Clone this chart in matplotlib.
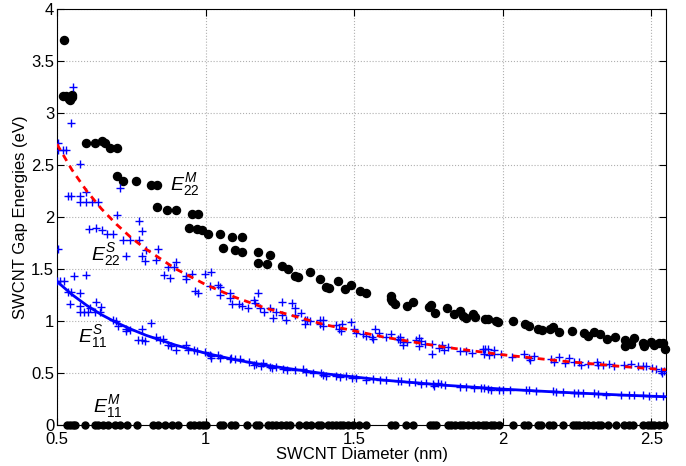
import matplotlib
matplotlib.use("Agg")
import matplotlib.pyplot as plt
import numpy as np

plt.rcParams["font.family"] = ["Liberation Sans", "DejaVu Sans"]
plt.rcParams["mathtext.fontset"] = "custom"
plt.rcParams["mathtext.rm"] = "Liberation Sans"
plt.rcParams["mathtext.it"] = "Liberation Sans:italic"
plt.rcParams["mathtext.default"] = "it"

# E22 metallic (black dots)
em22_d = [0.525, 0.52, 0.53, 0.54, 0.55, 0.545, 0.55,
          0.597, 0.629, 0.65, 0.661, 0.68, 0.703,
          0.703, 0.723, 0.766, 0.818, 0.837,
          0.838, 0.869, 0.902, 0.954, 0.975,
          0.944, 0.973, 0.988, 1.009, 1.049, 1.09, 1.122,
          1.059, 1.10, 1.122, 1.175, 1.175, 1.206, 1.216,
          1.259, 1.279, 1.30, 1.31, 1.353, 1.384, 1.405, 1.415,
          1.447, 1.468, 1.489, 1.521, 1.541,
          1.625, 1.625, 1.628, 1.636, 1.678, 1.698, 1.751, 1.76, 1.773,
          1.814, 1.835, 1.856, 1.866, 1.877, 1.899, 1.908, 1.942, 1.952,
          1.978, 1.983, 2.034, 2.075, 2.087, 2.118, 2.131, 2.16, 2.171,
          2.191, 2.232, 2.275, 2.287, 2.307, 2.327, 2.35, 2.379,
          2.411, 2.411, 2.432, 2.443, 2.471, 2.476, 2.499, 2.51, 2.527, 2.54, 2.547]
em22_e = [3.70, 3.16, 3.16, 3.13, 3.15, 3.12, 3.17,
          2.71, 2.71, 2.73, 2.71, 2.66, 2.66,
          2.39, 2.35, 2.35, 2.31, 2.31,
          2.10, 2.07, 2.07, 2.03, 2.03,
          1.89, 1.88, 1.87, 1.84, 1.84, 1.81, 1.81,
          1.70, 1.68, 1.66, 1.66, 1.56, 1.55, 1.63,
          1.53, 1.50, 1.43, 1.42, 1.47, 1.40, 1.33, 1.32,
          1.38, 1.31, 1.35, 1.29, 1.27,
          1.24, 1.21, 1.19, 1.16, 1.14, 1.18, 1.13, 1.15, 1.08,
          1.12, 1.07, 1.10, 1.05, 1.025, 1.07, 1.04, 1.02, 1.02,
          1.00, 0.99, 1.00, 0.97, 0.95, 0.92, 0.91, 0.92, 0.94,
          0.89, 0.90, 0.885, 0.86, 0.89, 0.87, 0.83, 0.85,
          0.82, 0.76, 0.78, 0.84, 0.79, 0.76, 0.80, 0.77, 0.79, 0.79, 0.73]

# E22 semiconducting (blue +)
es22_d = [0.555, 0.546, 0.504, 0.505, 0.52, 0.53, 0.577,
          0.538, 0.547, 0.577, 0.597, 0.577, 0.597, 0.619, 0.639,
          0.712, 0.703, 0.608, 0.63, 0.65, 0.669, 0.69, 0.723, 0.745,
          0.776, 0.787, 0.777, 0.505, 0.734, 0.787, 0.796, 0.80, 0.84, 0.832,
          0.874, 0.893, 0.902,
          0.86, 0.88, 0.934, 0.934, 0.956, 0.964, 0.975, 0.997, 1.02, 1.016, 1.042, 1.048,
          1.05, 1.082, 1.082, 1.09, 1.113, 1.124, 1.144, 1.163, 1.165, 1.175,
          1.185, 1.196, 1.216, 1.227, 1.238, 1.259, 1.259, 1.27, 1.29, 1.30, 1.30,
          1.322, 1.334, 1.341, 1.334, 1.35, 1.386, 1.395, 1.386, 1.395,
          1.438, 1.449, 1.457, 1.46, 1.49, 1.50, 1.507, 1.53, 1.54,
          1.561, 1.563, 1.572, 1.583, 1.606, 1.625, 1.647,
          1.653, 1.655, 1.664, 1.666, 1.678, 1.709, 1.718, 1.726, 1.72, 1.737,
          1.762, 1.763, 1.785, 1.795, 1.804, 1.815, 1.855, 1.877, 1.897,
          1.933, 1.942, 1.95, 1.972, 1.936, 1.955, 1.972, 1.995, 2.032,
          2.073, 2.09, 2.104, 2.092, 2.163, 2.174, 2.191, 2.211, 2.224, 2.241, 2.256,
          2.264, 2.286, 2.316, 2.32, 2.339, 2.359, 2.376, 2.409, 2.432,
          2.454, 2.471, 2.482, 2.504, 2.516, 2.533, 2.544, 2.536]
es22_e = [3.25, 2.90, 2.71, 2.64, 2.64, 2.64, 2.505,
          2.20, 2.20, 2.20, 2.24, 2.14, 2.14, 2.14, 2.14,
          2.275, 2.02, 1.88, 1.89, 1.875, 1.84, 1.84, 1.78, 1.78,
          1.96, 1.86, 1.78, 1.69, 1.62, 1.62, 1.58, 1.68, 1.69, 1.59,
          1.52, 1.52, 1.57,
          1.44, 1.41, 1.43, 1.40, 1.45, 1.29, 1.27, 1.45, 1.475, 1.34, 1.35, 1.33,
          1.25, 1.27, 1.22, 1.16, 1.16, 1.14, 1.12, 1.20, 1.17, 1.27,
          1.12, 1.09, 1.125, 1.03, 1.09, 1.18, 1.06, 1.01, 1.17, 1.125, 1.06,
          1.08, 1.01, 1.01, 0.975, 1.00, 1.01, 1.01, 0.975, 0.95,
          0.96, 0.92, 0.90, 0.97, 0.99, 0.92, 0.885, 0.875, 0.86,
          0.85, 0.83, 0.92, 0.885, 0.845, 0.87, 0.83,
          0.845, 0.82, 0.80, 0.77, 0.80, 0.82, 0.84, 0.805, 0.76, 0.78,
          0.685, 0.78, 0.74, 0.77, 0.725, 0.745, 0.71, 0.71, 0.69,
          0.735, 0.735, 0.735, 0.725, 0.685, 0.675, 0.685, 0.685, 0.655,
          0.68, 0.645, 0.66, 0.62, 0.635, 0.605, 0.655, 0.595, 0.645, 0.61, 0.61,
          0.58, 0.59, 0.61, 0.58, 0.58, 0.59, 0.565, 0.58, 0.59,
          0.565, 0.57, 0.565, 0.55, 0.535, 0.515, 0.515, 0.50]

# E11 semiconducting (blue +)
es11_d = [0.50, 0.51, 0.525, 0.536, 0.547, 0.558, 0.597, 0.577,
          0.544, 0.577, 0.577, 0.592, 0.605, 0.611, 0.63, 0.628, 0.645, 0.648,
          0.689, 0.70, 0.706, 0.734, 0.745, 0.734, 0.818, 0.787, 0.773, 0.787, 0.796,
          0.835, 0.846, 0.857, 0.874, 0.885, 0.902, 0.933, 0.941, 0.962, 0.97,
          0.997, 1.014, 1.02, 1.02, 1.042, 1.05, 1.082, 1.087, 1.098, 1.115,
          1.146, 1.162, 1.171, 1.188, 1.193, 1.216, 1.225, 1.238, 1.261, 1.274,
          1.30, 1.328, 1.337, 1.362, 1.39, 1.397, 1.406, 1.438, 1.451,
          1.474, 1.494, 1.505, 1.539, 1.563, 1.586, 1.608, 1.647, 1.659,
          1.686, 1.706, 1.726, 1.742, 1.765, 1.768, 1.782, 1.793, 1.807,
          1.855, 1.877, 1.905, 1.927, 1.938, 1.95, 1.96, 1.989, 2.0, 2.023,
          2.079, 2.09, 2.113, 2.168, 2.18, 2.202, 2.241, 2.252, 2.269,
          2.308, 2.32, 2.348, 2.398, 2.426, 2.443, 2.471, 2.493, 2.516, 2.538]
es11_e = [1.38, 1.38, 1.38, 1.275, 1.275, 1.43, 1.44, 1.27,
          1.16, 1.14, 1.09, 1.09, 1.09, 1.125, 1.18, 1.09, 1.09, 1.13,
          1.01, 1.00, 0.95, 0.92, 0.91, 0.90, 0.98, 0.925, 0.82, 0.82, 0.805,
          0.845, 0.82, 0.83, 0.77, 0.76, 0.725, 0.77, 0.725, 0.725, 0.71,
          0.70, 0.675, 0.66, 0.64, 0.67, 0.64, 0.63, 0.645, 0.63, 0.63,
          0.605, 0.58, 0.59, 0.57, 0.60, 0.56, 0.55, 0.56, 0.535, 0.525,
          0.525, 0.535, 0.505, 0.50, 0.50, 0.485, 0.475, 0.47, 0.463,
          0.47, 0.45, 0.455, 0.437, 0.444, 0.437, 0.437, 0.42, 0.42,
          0.41, 0.41, 0.39, 0.40, 0.39, 0.373, 0.405, 0.39, 0.385,
          0.363, 0.363, 0.358, 0.358, 0.358, 0.348, 0.341, 0.341, 0.341, 0.335,
          0.332, 0.332, 0.325, 0.322, 0.315, 0.315, 0.31, 0.303, 0.303,
          0.303, 0.296, 0.293, 0.29, 0.29, 0.284, 0.284, 0.277, 0.277, 0.277]

# E11 metallic (black dots on the zero line)
em11_d = [0.533, 0.544, 0.553, 0.56, 0.594, 0.628, 0.639, 0.656, 0.672, 0.695,
          0.712, 0.736, 0.77, 0.824, 0.84, 0.863, 0.886, 0.908, 0.947, 0.96,
          0.977, 0.992, 1.003, 1.048, 1.059, 1.087, 1.098, 1.138, 1.171, 1.18,
          1.21, 1.225, 1.238, 1.255, 1.272, 1.283, 1.314, 1.339, 1.356, 1.378,
          1.39, 1.412, 1.427, 1.44, 1.451, 1.462, 1.479, 1.496, 1.518, 1.541,
          1.625, 1.636, 1.675, 1.698, 1.754, 1.765, 1.776, 1.815, 1.827, 1.838,
          1.855, 1.866, 1.883, 1.899, 1.916, 1.933, 1.944, 1.961, 1.972, 1.989,
          2.034, 2.073, 2.084, 2.118, 2.129, 2.157, 2.168, 2.202, 2.235, 2.247,
          2.258, 2.275, 2.286, 2.303, 2.32, 2.331, 2.353, 2.381, 2.409, 2.426,
          2.437, 2.471, 2.488, 2.499, 2.51, 2.527, 2.544]
em11_e = np.zeros(len(em11_d))

# fitted curves
fit11_d = [0.5, 0.55, 0.6, 0.65, 0.7, 0.75, 0.8, 0.9, 1.0, 1.1, 1.2, 1.4, 1.6, 1.8, 2.0, 2.2, 2.4, 2.55]
fit11_e = [1.38, 1.255, 1.15, 1.06, 0.985, 0.92, 0.862, 0.767, 0.69, 0.627, 0.575, 0.493, 0.431,
           0.383, 0.345, 0.314, 0.288, 0.271]
fit22_d = [0.5, 0.55, 0.6, 0.65, 0.7, 0.75, 0.8, 0.9, 1.0, 1.1, 1.2, 1.4, 1.6, 1.8, 2.0, 2.2, 2.4, 2.55]
fit22_e = [2.70, 2.455, 2.25, 2.077, 1.93, 1.80, 1.69, 1.50, 1.35, 1.227, 1.125, 0.965, 0.845,
           0.75, 0.675, 0.614, 0.563, 0.53]

fig = plt.figure(figsize=(6.86, 4.66), dpi=100)
ax = fig.add_axes([0.083, 0.088, 0.888, 0.893])

ax.grid(True, linestyle=":", color="#b0b0b0", linewidth=0.8)
ax.set_axisbelow(True)

ax.plot(em22_d, em22_e, "o", color="black", markersize=5.8, clip_on=False, zorder=3)
ax.plot(em11_d, em11_e, "o", color="black", markersize=5, clip_on=False, zorder=3)
ax.plot(es22_d, es22_e, "+", color="blue", markersize=6, markeredgewidth=1, zorder=3)
ax.plot(es11_d, es11_e, "+", color="blue", markersize=6, markeredgewidth=1, zorder=3)
ax.plot(fit11_d, fit11_e, "-", color="blue", linewidth=2, zorder=4)
ax.plot(fit22_d, fit22_e, "--", color="red", linewidth=2, dashes=(2.5, 2), zorder=4)

ax.text(0.93, 2.31, r"$E_{22}^{M}$", fontsize=14, ha="center", va="center")
ax.text(0.665, 1.64, r"$E_{22}^{S}$", fontsize=14, ha="center", va="center")
ax.text(0.62, 0.85, r"$E_{11}^{S}$", fontsize=14, ha="center", va="center")
ax.text(0.672, 0.18, r"$E_{11}^{M}$", fontsize=14, ha="center", va="center")

ax.set_xlim(0.5, 2.55)
ax.set_ylim(0, 4)
ax.set_xticks([0.5, 1, 1.5, 2, 2.5])
ax.set_xticklabels(["0.5", "1", "1.5", "2", "2.5"])
ax.set_yticks([0, 0.5, 1, 1.5, 2, 2.5, 3, 3.5, 4])
ax.set_yticklabels(["0", "0.5", "1", "1.5", "2", "2.5", "3", "3.5", "4"])
ax.tick_params(direction="in", top=True, right=True, labelsize=12, length=5)
ax.tick_params(axis="x", pad=5)
ax.tick_params(axis="y", pad=2)
ax.set_xlabel("SWCNT Diameter (nm)", fontsize=12, labelpad=0)
ax.set_ylabel("SWCNT Gap Energies (eV)", fontsize=12, labelpad=2)

fig.savefig("out.png", dpi=100)
